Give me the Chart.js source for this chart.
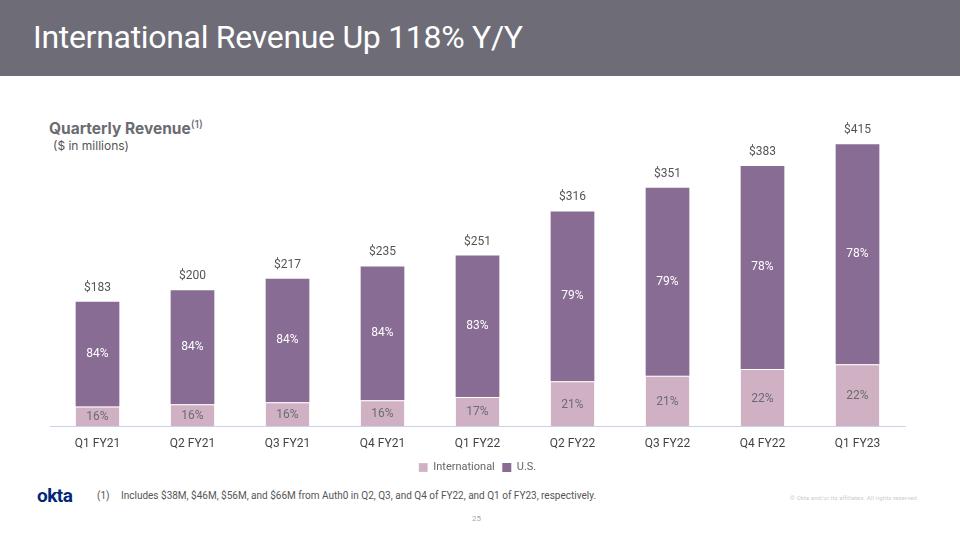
<!DOCTYPE html>
<html lang="en">
  <head>
    <meta charset="UTF-8" />
    <script src="https://cdn.jsdelivr.net/npm/chart.js@4.4.0/dist/chart.umd.min.js"></script>
    <title>International Revenue Up 118% Y/Y</title>
    <style>
      body { margin: 0; width: 960px; height: 540px; position: relative; background: #fff; font-family: Roboto, "Liberation Sans", sans-serif; overflow: hidden; }
      .header { position: absolute; left: 0; top: 0; width: 960px; height: 76px; background: #6d6c77; }
      .header h1 { margin: 0; position: absolute; left: 33px; top: 18px; color: #fff; font-weight: 400; font-size: 32px; letter-spacing: -0.3px; }
      .sub { position: absolute; left: 49px; top: 118px; color: #6b6b72; font-size: 15.5px; font-weight: 700; font-family: Inter, sans-serif; }
      .sub sup { font-size: 10.5px; font-weight: 500; }
      .unit { position: absolute; left: 53px; top: 138px; color: #555; font-size: 12px; font-family: Inter, sans-serif; }
      #wrap { position: absolute; left: 0; top: 100px; width: 960px; height: 383px; }
      .logo { position: absolute; left: 37px; top: 484px; color: #00297a; font-weight: 700; font-size: 19px; letter-spacing: -0.5px; }
      .note { position: absolute; left: 97px; top: 490px; color: #555; font-size: 10px; }
      .note span { position: absolute; left: 24px; white-space: nowrap; }
      .page { position: absolute; left: 472px; top: 514px; color: #aaa; font-size: 8px; }
      .copy { position: absolute; left: 790px; top: 494px; color: #ccc; font-size: 6px; white-space: nowrap; letter-spacing: 0.1px; }
    </style>
  </head>
  <body>
    <div class="header"><h1>International Revenue Up 118% Y/Y</h1></div>
    <div class="sub">Quarterly Revenue<sup>(1)</sup></div>
    <div class="unit">($ in millions)</div>
    <div id="wrap"><canvas id="myChart"></canvas></div>
    <div class="logo">okta</div>
    <div class="note">(1)<span>Includes $38M, $46M, $56M, and $66M from Auth0 in Q2, Q3, and Q4 of FY22, and Q1 of FY23, respectively.</span></div>
    <div class="page">25</div>
    <div class="copy">© Okta and/or its affiliates. All rights reserved.</div>
    <script>
      const quarters = ["Q1 FY21", "Q2 FY21", "Q3 FY21", "Q4 FY21", "Q1 FY22", "Q2 FY22", "Q3 FY22", "Q4 FY22", "Q1 FY23"];
      const totals = [183, 200, 217, 235, 251, 316, 351, 383, 415];
      const intl = [29, 32, 35, 38, 43, 66, 74, 84, 91];
      const us = [154, 168, 182, 197, 208, 250, 277, 299, 324];
      const intlPct = ["16%", "16%", "16%", "16%", "17%", "21%", "21%", "22%", "22%"];
      const usPct = ["84%", "84%", "84%", "84%", "83%", "79%", "79%", "78%", "78%"];

      // draws the total above each bar and the share inside each segment
      const labelPlugin = {
        id: "barLabels",
        afterDatasetsDraw(chart) {
          const ctx = chart.ctx;
          ctx.save();
          ctx.textAlign = "center";
          ctx.textBaseline = "middle";
          ctx.font = "12px Roboto, sans-serif";
          const intlBars = chart.getDatasetMeta(0).data;
          const usBars = chart.getDatasetMeta(1).data;
          intlBars.forEach((bar, i) => {
            ctx.fillStyle = "#6b6b72";
            ctx.fillText(intlPct[i], bar.x, (bar.y + bar.base) / 2 + 1);
          });
          usBars.forEach((bar, i) => {
            ctx.fillStyle = "#ffffff";
            ctx.fillText(usPct[i], bar.x, (bar.y + bar.base) / 2);
            ctx.fillStyle = "#555";
            ctx.fillText("$" + totals[i], bar.x, bar.y - 14);
          });
          ctx.restore();
        },
      };

      const ctx = document.getElementById("myChart").getContext("2d");
      const myChart = new Chart(ctx, {
        type: "bar",
        data: {
          labels: quarters,
          datasets: [
            { label: "International", data: intl, backgroundColor: "#d0b1c3", borderColor: "#ffffff", borderWidth: { top: 1 }, borderSkipped: false },
            { label: "U.S.", data: us, backgroundColor: "#886c94", borderColor: "#ffffff", borderWidth: 0 },
          ],
        },
        options: {
          responsive: true,
          maintainAspectRatio: false,
          animation: false,
          layout: { padding: { left: 50, right: 55, top: 0, bottom: 0 } },
          barPercentage: 0.46,
          categoryPercentage: 1,
          plugins: {
            tooltip: { enabled: false },
            legend: {
              position: "bottom",
              labels: { boxWidth: 9, boxHeight: 9, color: "#666", font: { size: 11, family: "Roboto, sans-serif" }, padding: 7.5 },
            },
          },
          scales: {
            x: {
              stacked: true,
              grid: { display: false },
              border: { display: true, color: "#c8d2f0" },
              ticks: { color: "#444", font: { size: 12, family: "Roboto, sans-serif" }, padding: 3 },
            },
            y: {
              stacked: true,
              display: false,
              min: 0,
              max: 480,
            },
          },
        },
        plugins: [labelPlugin],
      });
    </script>
  </body>
</html>
